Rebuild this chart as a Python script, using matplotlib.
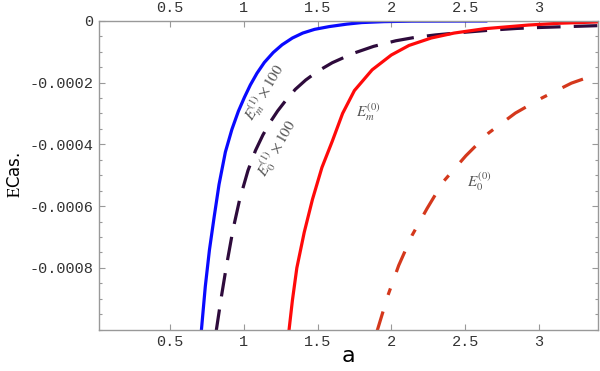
import matplotlib.pyplot as plt
from matplotlib.ticker import FixedLocator, MultipleLocator

plt.rcParams['lines.scale_dashes'] = False
plt.rcParams['mathtext.fontset'] = 'stix'

# E_m^(1) x100 (blue, solid)
blue_a = [0.712, 0.740, 0.768, 0.800, 0.833, 0.876, 0.920, 0.964, 1.005, 1.045,
          1.09, 1.14, 1.20, 1.26, 1.33, 1.40, 1.48, 1.58, 1.70, 1.80, 1.95, 2.14, 2.64]
blue_E = [-0.00101, -0.000860, -0.000742, -0.000635, -0.000530, -0.000425,
          -0.000352, -0.000293, -0.000248, -0.000208, -0.000170, -0.000135,
          -0.000103, -0.000078, -0.000056, -0.000040, -0.000028, -0.000019,
          -0.000011, -0.000006, -0.000003, -0.0000015, -0.000001]

# E_0^(1) x100 (dark purple, dashed)
purp_a = [0.812, 0.849, 0.883, 0.928, 0.973, 1.029, 1.08, 1.13, 1.18, 1.23, 1.29,
          1.35, 1.42, 1.50, 1.60, 1.74, 1.88, 2.03, 2.16, 2.30, 2.48, 2.66, 2.85,
          3.0, 3.2, 3.4]
purp_E = [-0.00101, -0.000893, -0.000794, -0.000675, -0.000578, -0.000485,
          -0.000420, -0.000370, -0.000328, -0.000292, -0.000255, -0.000222,
          -0.000192, -0.000164, -0.000136, -0.000106, -0.000083, -0.000065,
          -0.000054, -0.000046, -0.000038, -0.000031, -0.000025, -0.000022,
          -0.000019, -0.000016]

# E_m^(0) (red, solid)
red_a = [1.305, 1.33, 1.36, 1.41, 1.466, 1.53, 1.60, 1.67, 1.75, 1.87, 2.0, 2.12,
         2.27, 2.425, 2.63, 2.93, 3.15, 3.4]
red_E = [-0.00101, -0.000905, -0.000800, -0.000685, -0.000578, -0.000475,
         -0.000390, -0.000300, -0.000226, -0.000159, -0.000111, -0.000080,
         -0.000056, -0.000040, -0.000026, -0.000014, -0.000008, -0.000004]

# E_0^(0) (orange-red, dash-dot)
org_a = [1.90, 1.977, 2.05, 2.14, 2.243, 2.35, 2.505, 2.66, 2.84, 3.02, 3.22, 3.4]
org_E = [-0.00101, -0.000889, -0.000792, -0.000695, -0.000607, -0.000522,
         -0.000437, -0.000363, -0.000299, -0.000250, -0.000202, -0.000172]

xticks = [0.5, 1, 1.5, 2, 2.5, 3]
xticklabels = ['0.5', '1', '1.5', '2', '2.5', '3']
yticks = [0, -0.0002, -0.0004, -0.0006, -0.0008]
yticklabels = ['0', '-0.0002', '-0.0004', '-0.0006', '-0.0008']

fig = plt.figure(figsize=(6, 3.71), dpi=100)
ax = fig.add_axes([0.165, 0.1113, 0.8317, 0.8329])

ax.plot(blue_a, blue_E, color='#0a0aff', lw=2.3)
ax.plot(purp_a, purp_E, color='#2e0b3c', lw=2.3, linestyle=(0, (17, 9.5)),
        dash_capstyle='butt')
ax.plot(red_a, red_E, color='#ff0a0a', lw=2.3)
ax.plot(org_a, org_E, color='#d4381c', lw=2.3, linestyle=(0, (16, 12.5, 5, 12.5)),
        dash_capstyle='butt')

ax.set_xlim(0.02, 3.4)
ax.set_ylim(-0.001, 0)

ax.xaxis.set_major_locator(FixedLocator(xticks))
ax.set_xticklabels(xticklabels)
ax.yaxis.set_major_locator(FixedLocator(yticks))
ax.set_yticklabels(yticklabels)
ax.yaxis.set_minor_locator(MultipleLocator(0.00005))

for s in ax.spines.values():
    s.set_color('#999999')
    s.set_linewidth(1.0)

ax.tick_params(which='both', direction='in', top=True, right=True, labeltop=True,
               color='#999999', labelcolor='#333333', labelsize=11)
ax.tick_params(which='major', length=4.5, width=0.8, pad=4)
ax.tick_params(which='minor', length=2.5, width=0.8)
for t in ax.xaxis.get_major_ticks() + ax.yaxis.get_major_ticks():
    t.label1.set_family('Liberation Mono')
    t.label2.set_family('Liberation Mono')

ax.set_xlabel('a', fontsize=16, family='DejaVu Sans', labelpad=-2)
ax.set_ylabel(r'$\mathrm{E}$' + 'Cas.', fontsize=12, family='DejaVu Sans', labelpad=4)

tc = '#555555'
ax.text(1.145, -0.000232, r'$E_m^{(1)}\times100$', rotation=59, fontsize=11, color=tc,
        ha='center', va='center')
ax.text(1.225, -0.000414, r'$E_0^{(1)}\times100$', rotation=60, fontsize=11, color=tc,
        ha='center', va='center')
ax.text(1.844, -0.000295, r'$E_m^{(0)}$', fontsize=11, color=tc, ha='center', va='center')
ax.text(2.594, -0.00052, r'$E_0^{(0)}$', fontsize=11, color=tc, ha='center', va='center')

fig.savefig('out.png', dpi=100)
